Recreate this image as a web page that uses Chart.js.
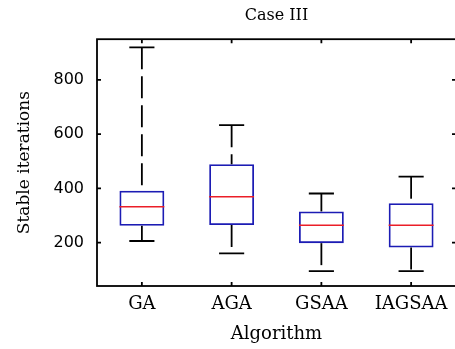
<!DOCTYPE html>
<html>
<head>
<meta charset="utf-8">
<script src="https://cdn.jsdelivr.net/npm/chart.js"></script>
<style>
    html, body { margin: 0; padding: 0; background: #fff; overflow: hidden; }
    #graph1 { display: block; }
</style>
</head>
<body>
<canvas id="graph1" width="460" height="349"></canvas>
<script>
// data
const algorithms = ['GA', 'AGA', 'GSAA', 'IAGSAA']
const lowerWhisker = [206, 160, 95, 95]
const q1 = [262, 265, 198, 182]
const median = [332, 369, 264, 264]
const q3 = [391, 489, 315, 345]
const upperWhisker = [920, 633, 381, 443]
const yTicks = [200, 400, 600, 800]

const boxBlue = 'rgb(28,28,180)'
const medianRed = 'rgb(235,30,40)'

// whiskers, caps, medians, frame and inward ticks
const boxExtras = {
    id: 'boxExtras',
    afterDatasetsDraw(chart) {
        const ctx = chart.ctx
        const x = chart.scales.x
        const y = chart.scales.y
        const area = chart.chartArea
        const step = x.getPixelForValue(1) - x.getPixelForValue(0)
        const boxHalf = step * 0.25
        const capHalf = step * 0.14

        ctx.save()
        for (let i = 0; i < algorithms.length; i++) {
            const cx = x.getPixelForValue(i)

            ctx.strokeStyle = '#000'
            ctx.lineWidth = 1.8
            ctx.setLineDash([22, 7])
            ctx.beginPath()
            ctx.moveTo(cx, y.getPixelForValue(upperWhisker[i]))
            ctx.lineTo(cx, y.getPixelForValue(q3[i]))
            ctx.stroke()
            ctx.beginPath()
            ctx.moveTo(cx, y.getPixelForValue(q1[i]))
            ctx.lineTo(cx, y.getPixelForValue(lowerWhisker[i]))
            ctx.stroke()

            ctx.setLineDash([])
            ctx.beginPath()
            ctx.moveTo(cx - capHalf, y.getPixelForValue(upperWhisker[i]))
            ctx.lineTo(cx + capHalf, y.getPixelForValue(upperWhisker[i]))
            ctx.moveTo(cx - capHalf, y.getPixelForValue(lowerWhisker[i]))
            ctx.lineTo(cx + capHalf, y.getPixelForValue(lowerWhisker[i]))
            ctx.stroke()

            ctx.strokeStyle = medianRed
            ctx.lineWidth = 1.6
            ctx.beginPath()
            ctx.moveTo(cx - boxHalf, y.getPixelForValue(median[i]))
            ctx.lineTo(cx + boxHalf, y.getPixelForValue(median[i]))
            ctx.stroke()
        }

        ctx.strokeStyle = '#000'
        ctx.lineWidth = 1.8
        ctx.strokeRect(area.left, area.top, area.right - area.left, area.bottom - area.top)

        ctx.beginPath()
        yTicks.forEach(function (t) {
            const py = y.getPixelForValue(t)
            ctx.moveTo(area.left, py)
            ctx.lineTo(area.left + 4, py)
            ctx.moveTo(area.right, py)
            ctx.lineTo(area.right - 4, py)
        })
        algorithms.forEach(function (a, i) {
            const px = x.getPixelForValue(i)
            ctx.moveTo(px, area.bottom)
            ctx.lineTo(px, area.bottom - 4)
            ctx.moveTo(px, area.top)
            ctx.lineTo(px, area.top + 4)
        })
        ctx.stroke()
        ctx.restore()
    }
}

const data = {
    labels: algorithms,
    datasets: [{
        label: 'Case III',
        data: q1.map(function (v, i) { return [v, q3[i]] }),
        backgroundColor: 'rgba(0,0,0,0)',
        borderColor: boxBlue,
        borderWidth: 1.8,
        borderSkipped: false,
        barPercentage: 0.5,
        categoryPercentage: 1.0
    }]
}

const config = {
    type: 'bar',
    data: data,
    plugins: [boxExtras],
    options: {
        responsive: false,
        animation: false,
        layout: {
            padding: { left: 0, right: 4, top: 0, bottom: 0 }
        },
        plugins: {
            legend: { display: false },
            tooltip: { enabled: false },
            title: {
                display: true,
                text: 'Case III',
                fullSize: false,
                color: '#000',
                padding: { top: 6, bottom: 14 },
                font: { family: 'DejaVu Serif', size: 16, weight: 'normal' }
            }
        },
        scales: {
            x: {
                type: 'category',
                offset: true,
                grid: { display: false, drawTicks: false },
                border: { display: false },
                ticks: {
                    color: '#000',
                    padding: 8,
                    font: { family: 'DejaVu Serif', size: 18 }
                },
                title: {
                    display: true,
                    text: 'Algorithm',
                    color: '#000',
                    padding: { top: 0, bottom: 4 },
                    font: { family: 'DejaVu Serif', size: 18 }
                },
                afterFit: function (scale) { scale.height = 63 }
            },
            y: {
                min: 40,
                max: 950,
                grid: { display: false, drawTicks: false },
                border: { display: false },
                afterBuildTicks: function (scale) {
                    scale.ticks = yTicks.map(function (v) { return { value: v } })
                },
                ticks: {
                    color: '#000',
                    padding: 13,
                    font: { family: 'DejaVu Sans', size: 16 }
                },
                title: {
                    display: true,
                    text: 'Stable iterations',
                    color: '#000',
                    padding: { top: 14, bottom: 0 },
                    font: { family: 'DejaVu Serif', size: 17 }
                },
                afterFit: function (scale) { scale.width = 97 }
            }
        }
    }
}

const myChart = new Chart(document.querySelector('#graph1'), config)
</script>
</body>
</html>
